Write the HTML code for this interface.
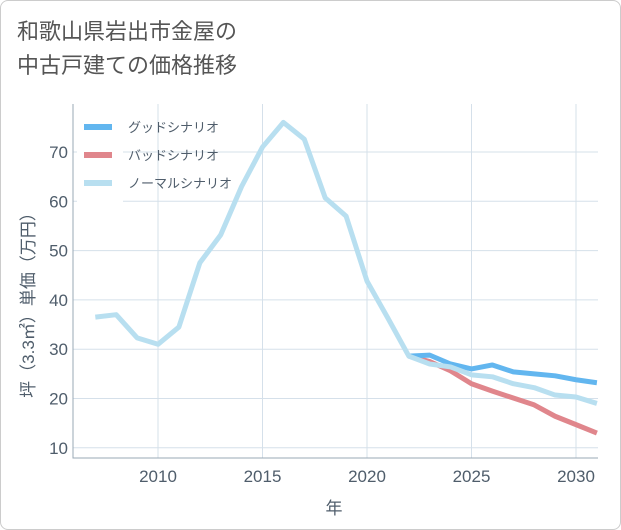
<!DOCTYPE html>
<html><head><meta charset="utf-8"><style>
body{margin:0;background:#fff;font-family:"Liberation Sans","Noto Sans CJK JP",sans-serif;}
#wrap{position:relative;width:619px;height:528px;border:1px solid #ccc;border-radius:8px;overflow:hidden;background:#fff;}
#title{position:absolute;left:16px;top:14px;font-size:22px;line-height:34px;color:#555;}
svg{position:absolute;left:0;top:0;}
</style></head><body>
<div id="wrap">
<div id="title">和歌山県岩出市金屋の<br>中古戸建ての価格推移</div>
<svg id="chart" width="621" height="530"></svg>
</div>
<script>
const years=[2007,2008,2009,2010,2011,2012,2013,2014,2015,2016,2017,2018,2019,2020,2021,2022,2023,2024,2025,2026,2027,2028,2029,2030,2031];
const normal=[36.5,37,32.3,31,34.5,47.5,53.2,63,71,76,72.6,60.7,57,43.8,36.3,28.6,27,26.4,24.8,24.4,23,22.2,20.7,20.3,19];
const futureYears=[2022,2023,2024,2025,2026,2027,2028,2029,2030,2031];
const good=[28.6,28.8,27,26,26.8,25.4,25,24.6,23.8,23.2];
const bad=[28.6,27.5,25.6,23,21.5,20.1,18.7,16.4,14.7,13];
const xTicks=[2010,2015,2020,2025,2030];
const yTicks=[10,20,30,40,50,60,70];
const L=72,R=597,T=103,B=457;
const x=v=>157+(v-2010)*20.9;
const y=v=>151+(70-v)*4.93;
const s=document.getElementById('chart');
const NS='http://www.w3.org/2000/svg';
const tc='#4f5d6b';
function mk(t,a,p){const e=document.createElementNS(NS,t);for(const k in a)e.setAttribute(k,a[k]);(p||s).appendChild(e);return e;}
xTicks.forEach(t=>{const l=mk('line',{x1:x(t),x2:x(t),y1:T,y2:B,stroke:'#d5e0ea','stroke-width':1});


const tx=mk('text',{x:x(t),y:B+24,'text-anchor':'middle','font-size':17,fill:tc});tx.textContent=t;

});
yTicks.forEach(t=>{const l=mk('line',{x1:L,x2:R,y1:y(t),y2:y(t),stroke:'#d5e0ea','stroke-width':1});


const tx=mk('text',{x:L-5,y:y(t)+6,'text-anchor':'end','font-size':17,fill:tc});tx.textContent=t;

});
const ax=mk('path',{d:`M${L} ${T}V${B}H${R}`,fill:'none',stroke:'#9aa8b5','stroke-width':1});


function line(xs,vs,c,n){const p=mk('polyline',{points:xs.map((v,i)=>x(v)+','+y(vs[i])).join(' '),fill:'none',stroke:c,'stroke-width':5,'stroke-linejoin':'round'});

}
line(futureYears,bad,'#e0868c','bad-scenario-line');
line(futureYears,good,'#62b6ef','good-scenario-line');
line(years,normal,'#b8dff0','normal-scenario-line');
const lg=mk('rect',{x:76,y:110,width:46,height:92,fill:'#fff'});


[['グッドシナリオ','#62b6ef'],['バッドシナリオ','#e0868c'],['ノーマルシナリオ','#b8dff0']].forEach((d,i)=>{
const yy=126+i*28;
const l=mk('line',{x1:83,x2:111,y1:yy,y2:yy,stroke:d[1],'stroke-width':6});


const t=mk('text',{x:127,y:yy+5,'font-size':13,fill:tc});t.textContent=d[0];

});
const xt=mk('text',{x:333,y:513,'text-anchor':'middle','font-size':17,fill:tc});xt.textContent='年';


const yt=mk('text',{x:0,y:0,'text-anchor':'middle','font-size':17,fill:tc,transform:`translate(33,300) rotate(-90)`});yt.textContent='坪（3.3㎡）単価（万円）';


</script>
</body></html>
